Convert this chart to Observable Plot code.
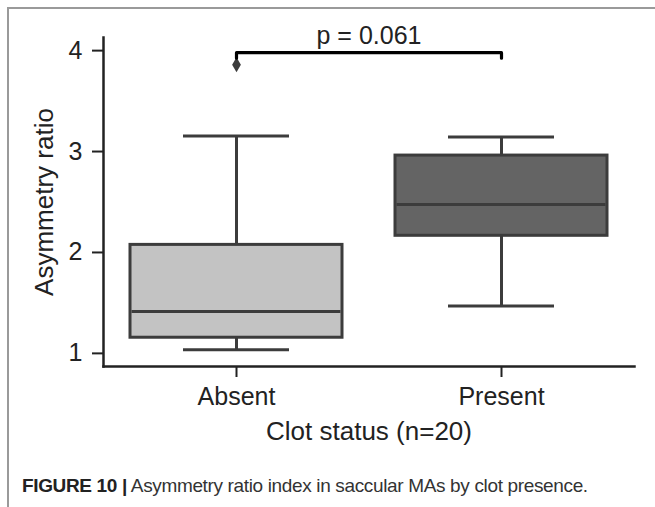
<!DOCTYPE html>
<html>
<head>
<meta charset="utf-8">
<script src="https://cdn.jsdelivr.net/npm/d3@7"></script>
<script src="https://cdn.jsdelivr.net/npm/@observablehq/plot@0.6"></script>
<style>
  html, body { margin: 0; padding: 0; background: #fff; }
  #wrap { position: relative; width: 655px; height: 507px; overflow: hidden; font-family: "Liberation Sans", Arial, sans-serif; }
  #frame { position: absolute; left: 7px; top: 7px; width: 700px; height: 600px; border-left: 2px solid #9a9a9a; border-top: 2px solid #9a9a9a; box-sizing: border-box; }
  #chart { position: absolute; left: 0; top: 0; }
  #caption { position: absolute; left: 22px; top: 475px; font-size: 19px; line-height: 22px; color: #333; white-space: nowrap; letter-spacing: -0.35px; }
  #caption b { color: #222; }
</style>
</head>
<body>
<div id="wrap">
  <div id="frame"></div>
  <div id="chart"></div>
  <div id="caption"><b>FIGURE 10 |</b> Asymmetry ratio index in saccular MAs by clot presence.</div>
</div>
<script>
// Data
const categories = ["Absent", "Present"];
const whiskerLow = [1.035, 1.47];
const q1 = [1.155, 2.165];
const medians = [1.415, 2.475];
const q3 = [2.075, 2.96];
const whiskerHigh = [3.155, 3.145];
const boxFills = ["#c3c3c3", "#646464"];
const outlierCategory = ["Absent"];
const outlierValue = [3.86];
const yTicks = [1, 2, 3, 4];
const pLabel = "p = 0.061";
const bracketTop = 3.98;
const bracketBottom = 3.925;
const xTitle = "Clot status (n=20)";
const yTitle = "Asymmetry ratio";

const rows = categories.map((c, i) => ({
  cat: c, lo: whiskerLow[i], q1: q1[i], med: medians[i], q3: q3[i], hi: whiskerHigh[i], fill: boxFills[i]
}));
const outliers = outlierCategory.map((c, i) => ({cat: c, v: outlierValue[i]}));
const bracket = [
  {cat: categories[0], v: bracketBottom},
  {cat: categories[0], v: bracketTop},
  {cat: categories[1], v: bracketTop},
  {cat: categories[1], v: bracketBottom}
];

const edge = "#3c3c3c";
const ink = "#222";

const chart = Plot.plot({
  width: 655,
  height: 460,
  marginLeft: 103,
  marginRight: 21,
  marginTop: 37,
  marginBottom: 94,
  style: {fontFamily: "'Liberation Sans', Arial, sans-serif", color: ink, background: "transparent"},
  x: {domain: categories, paddingInner: 0.2, paddingOuter: 0.1, label: null},
  y: {domain: [0.87, 4.13], label: null},
  marks: [
    Plot.frame({anchor: "left", stroke: ink, strokeWidth: 2.5}),
    Plot.frame({anchor: "bottom", stroke: ink, strokeWidth: 2.5}),
    Plot.axisY({ticks: yTicks, tickSize: 11, tickPadding: 10, fontSize: 25, strokeWidth: 2, label: null, tickFormat: d3.format("d")}),
    Plot.axisX({tickSize: 11, tickPadding: 10, fontSize: 25, strokeWidth: 2, label: null}),
    Plot.ruleX(rows, {x: "cat", y1: "q3", y2: "hi", stroke: edge, strokeWidth: 3}),
    Plot.ruleX(rows, {x: "cat", y1: "lo", y2: "q1", stroke: edge, strokeWidth: 3}),
    Plot.tickY(rows, {x: "cat", y: "hi", stroke: edge, strokeWidth: 3, insetLeft: 53, insetRight: 53}),
    Plot.tickY(rows, {x: "cat", y: "lo", stroke: edge, strokeWidth: 3, insetLeft: 53, insetRight: 53}),
    Plot.barY(rows, {x: "cat", y1: "q1", y2: "q3", fill: d => d.fill, stroke: edge, strokeWidth: 3}),
    Plot.tickY(rows, {x: "cat", y: "med", stroke: edge, strokeWidth: 3, insetLeft: 1.5, insetRight: 1.5}),
    Plot.dot(outliers, {x: "cat", y: "v", symbol: "diamond", r: 4.6, fill: edge, stroke: "none"}),
    Plot.line(bracket, {x: "cat", y: "v", stroke: "#000", strokeWidth: 3.2, curve: "linear"}),
    Plot.text([pLabel], {frameAnchor: "top", dy: -2, lineAnchor: "middle", fontSize: 25, fill: ink}),
    Plot.text([xTitle], {frameAnchor: "bottom", dy: 73, fontSize: 26, fill: ink}),
    Plot.text([yTitle], {frameAnchor: "left", dx: -59, rotate: -90, textAnchor: "middle", fontSize: 26, fill: ink})
  ]
});
document.getElementById("chart").appendChild(chart);
</script>
</body>
</html>
